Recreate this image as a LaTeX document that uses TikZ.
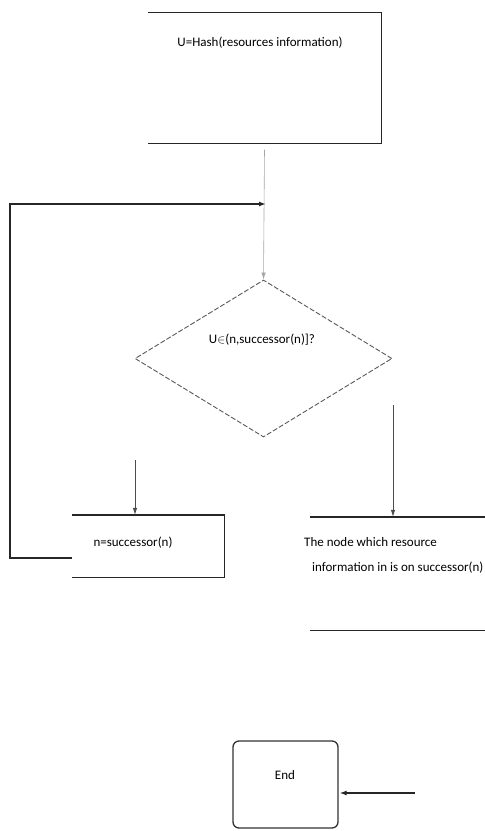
\documentclass[tikz,border=0pt]{standalone}
\usepackage{fontspec}
\setmainfont{Carlito}
\usetikzlibrary{shapes.geometric,arrows.meta,calc}
\begin{document}
\begin{tikzpicture}[x=1pt,y=-1pt,
  edge/.style={line width=1.4pt,draw=black!85},
  thinarr/.style={line width=0.7pt,draw=black!70,-{Latex[length=7pt,width=4.5pt]}},
  grayarr/.style={line width=0.6pt,draw=black!35,-{Latex[length=7pt,width=4.5pt]}},
  looparr/.style={line width=1.4pt,draw=black!85,-{Latex[length=7pt,width=5pt]}},
  lbl/.style={font=\fontsize{13}{16}\selectfont,inner sep=0pt},
  area/.style={rectangle,inner sep=0pt}]
\useasboundingbox (0,0) rectangle (485,831);
% top box (three sides drawn)
\node[area,minimum width=233pt,minimum height=131pt] (top) at (264.5,78) {};
\draw[edge] (top.north west) -- (top.north east) -- (top.south east) -- (top.south west);
\node[lbl] (toptext) at (260,43) {U=Hash(resources information)};
% decision
\node[diamond,draw=black!65,dashed,dash pattern=on 5pt off 2pt,line width=0.9pt,
      minimum width=257pt,minimum height=157pt,inner sep=0pt] (dec) at (263.5,358.5) {};
\node[lbl] (dectext) at (262,340) {U$\in$(n,successor(n)]?};
% left box
\node[area,minimum width=152pt,minimum height=62pt] (nbox) at (148,546) {};
\draw[edge] (nbox.north west) -- (nbox.north east) -- (nbox.south east) -- (nbox.south west);
\node[lbl] (ntext) at (133,543) {n=successor(n)};
% right box
\node[area,minimum width=175pt,minimum height=113pt] (rbox) at (397.5,573.5) {};
\draw[edge] (rbox.north west) -- (rbox.north east);
\draw[edge] (rbox.south west) -- (rbox.south east);
\node[lbl,anchor=west,align=left] (rtext) at (304,555) {The node which resource\\[9pt]\hspace{8pt}information in is on successor(n)};
% end box
\node[draw=black!80,line width=1.3pt,rounded corners=6pt,minimum width=105pt,minimum height=87pt,inner sep=0pt] (endb) at (285.5,784.5) {};
\node[lbl] (endtext) at (285,775) {End};
% connectors
\coordinate (j) at (266,204);
\coordinate (la) at (135,460);
\coordinate (ra) at (393,405);
\coordinate (ea) at (415,793);
\draw[grayarr] ([yshift=-6pt]top.south) -- (dec.north);
\draw[looparr] ([yshift=-12pt]nbox.west) -- ++(-62,0) |- (j);
\draw[thinarr] (la) -- (la |- nbox.north);
\draw[thinarr] (ra) -- (ra |- rbox.north);
\draw[looparr] (ea) -- ([xshift=1pt]ea -| endb.east);
\end{tikzpicture}
\end{document}
